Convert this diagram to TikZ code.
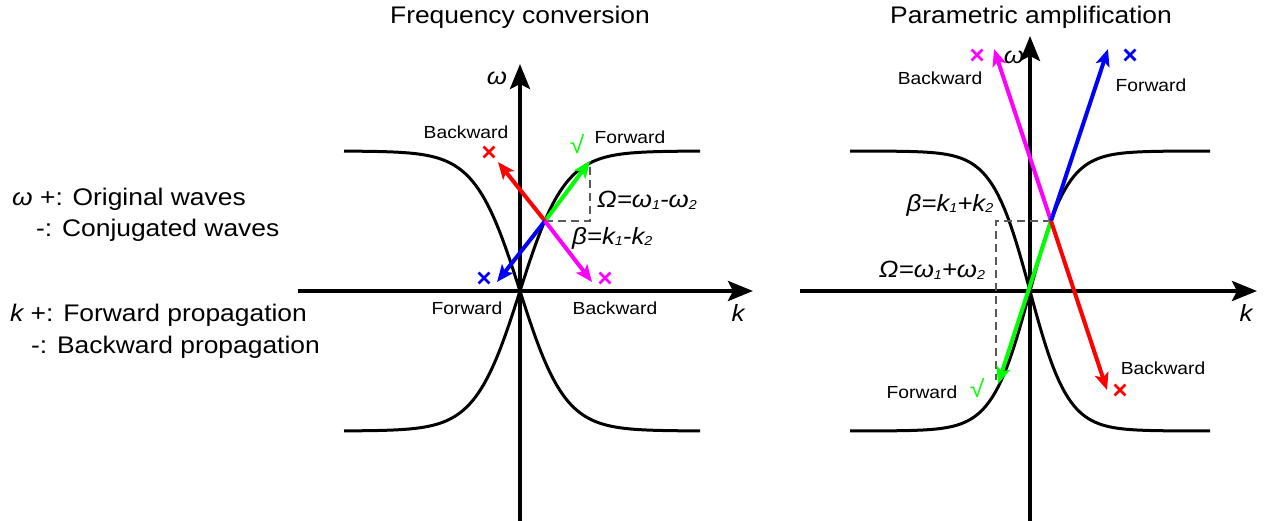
\documentclass[tikz,border=0pt]{standalone}
\usepackage{fontspec}
\setmainfont[FakeStretch=1.1]{Liberation Sans}
\usetikzlibrary{arrows.meta,shapes.misc}
\definecolor{pmag}{RGB}{255,0,255}
\definecolor{pgrn}{RGB}{0,255,0}
\definecolor{pred}{RGB}{255,0,0}
\definecolor{pblu}{RGB}{0,0,255}
\newcommand{\sbs}[1]{\raisebox{-0.08em}{\fontsize{13}{13}\selectfont #1}}
\begin{document}
\begin{tikzpicture}[x=1pt,y=-1pt,
  axis/.style={line width=4pt,-{Stealth[length=25pt,width=20pt,inset=5pt]}},
  curve/.style={line width=3pt},
  vec/.style={line width=4pt,-{Stealth[length=17pt,width=14pt,inset=4pt]}},
  guide/.style={draw=black!65, line width=2pt, dash pattern=on 8pt off 5pt},
  lbl/.style={font=\fontsize{17.5}{20}\selectfont, inner sep=0pt},
  mlbl/.style={font=\fontsize{23.5}{24}\selectfont\itshape, inner sep=0pt},
  ttl/.style={font=\fontsize{24}{26}\selectfont, inner sep=0pt},
  side/.style={font=\fontsize{24}{26}\selectfont, inner sep=0pt, anchor=west},
  xmark/.style={cross out, draw=#1, line width=2.8pt, minimum size=8pt, inner sep=0pt},
  chk/.style={font=\fontsize{24}{24}\selectfont, text=pgrn, inner sep=0pt}]
\useasboundingbox (0,0) rectangle (1268,521);

% ---------- titles ----------
\node[ttl] (t1) at (520,17) {Frequency conversion};
\node[ttl] (t2) at (1031,17) {Parametric amplification};

% ---------- side legend ----------
\node[side] (s1) at (12,199) {\itshape ω\upshape{} +: Original waves};
\node[side] (s2) at (36,230) {-: Conjugated waves};
\node[side] (s3) at (10,315) {\itshape k\upshape{} +: Forward propagation};
\node[side] (s4) at (31,347) {-: Backward propagation};

% ================= LEFT DIAGRAM =================
\coordinate (Lxs) at (298,291); \coordinate (Lxe) at (753,291);
\coordinate (Lys) at (520,521); \coordinate (Lye) at (520,64);
\draw[curve] plot[domain=-176:180, samples=120] ({520+\x}, {291-140*tanh(\x/45)});
\draw[curve] plot[domain=-176:180, samples=120] ({520+\x}, {291+140*tanh(\x/45)});
\draw[axis] (Lxs) -- (Lxe);
\draw[axis] (Lys) -- (Lye);
\node[mlbl] (Lw) at (497,78) {ω};
\node[mlbl] (Lk) at (738,313) {k};

\coordinate (P) at (545,221);
\coordinate (Pc) at (590,221);
\coordinate (Pg) at (590,161);
\draw[guide] (P) -- (Pc) -- (Pg);
\draw[vec, draw=pgrn] (P) -- (Pg);
\draw[vec, draw=pred] (P) -- (498,162) coordinate (Pr);
\draw[vec, draw=pblu] (P) -- (497,282) coordinate (Pb);
\draw[vec, draw=pmag] (P) -- (592,282) coordinate (Pm);

\node[xmark=pred] (Lxr) at (489,152) {};
\node[xmark=pblu] (Lxb) at (484,278) {};
\node[xmark=pmag] (Lxm) at (605,278) {};
\node[chk] (Lck) at (577,144) {√};

\node[lbl] (Lb1) at (466,132) {Backward};
\node[lbl] (Lf1) at (630,137) {Forward};
\node[lbl] (Lf2) at (467,308) {Forward};
\node[lbl] (Lb2) at (615,308) {Backward};
\node[mlbl, anchor=west] (LOm) at (597,200) {Ω=ω\sbs{1}-ω\sbs{2}};
\node[mlbl, anchor=west] (LBe) at (572,238) {β=k\sbs{1}-k\sbs{2}};

% ================= RIGHT DIAGRAM =================
\coordinate (Rxs) at (800,291); \coordinate (Rxe) at (1257,291);
\coordinate (Rys) at (1030,521); \coordinate (Rye) at (1030,36);
\draw[curve] plot[domain=-180:180, samples=120] ({1030+\x}, {291-140*tanh(\x/38)});
\draw[curve] plot[domain=-180:180, samples=120] ({1030+\x}, {291+140*tanh(\x/38)});
\draw[axis] (Rxs) -- (Rxe);
\draw[axis] (Rys) -- (Rye);
\node[mlbl] (Rw) at (1014,57) {ω};
\node[mlbl] (Rk) at (1246,313) {k};

\coordinate (Q) at (1051,221);
\coordinate (Qc) at (996,221);
\coordinate (Qd) at (996,380);
\draw[guide] (Q) -- (Qc) -- (Qd);
\draw[vec, draw=pmag] (Q) -- (994,49) coordinate (Qm);
\draw[vec, draw=pblu] (Q) -- (1108,49) coordinate (Qb);
\draw[vec, draw=pgrn] (Q) -- (998,384) coordinate (Qg);
\draw[vec, draw=pred] (Q) -- (1107,390) coordinate (Qr);

\node[xmark=pmag] (Rxm) at (977,55) {};
\node[xmark=pblu] (Rxb) at (1130,55) {};
\node[xmark=pred] (Rxr) at (1120,390) {};
\node[chk] (Rck) at (977,388) {√};

\node[lbl] (Rb1) at (940,78) {Backward};
\node[lbl] (Rf1) at (1151,85) {Forward};
\node[lbl] (Rf2) at (922,392) {Forward};
\node[lbl] (Rb2) at (1163,368) {Backward};
\node[mlbl] (RBe) at (950,205) {β=k\sbs{1}+k\sbs{2}};
\node[mlbl] (ROm) at (932,270) {Ω=ω\sbs{1}+ω\sbs{2}};
\end{tikzpicture}
\end{document}
